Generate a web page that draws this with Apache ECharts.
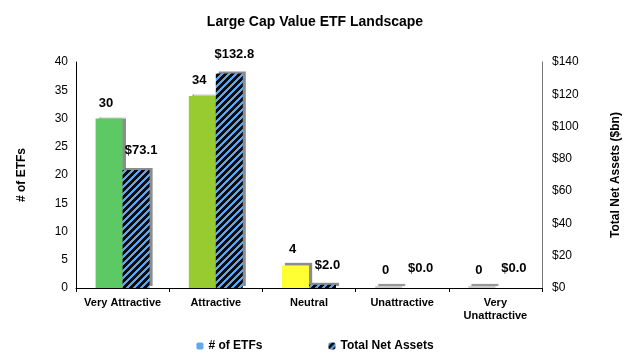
<!DOCTYPE html>
<html><head><meta charset="utf-8">
<script src="https://cdn.jsdelivr.net/npm/echarts@6/dist/echarts.min.js"></script>
<style>html,body{margin:0;padding:0;background:#fff}#c{width:630px;height:360px}</style>
</head><body><div id="c"></div>
<script>
const categories = ['Very Attractive', 'Attractive', 'Neutral', 'Unattractive', 'Very\nUnattractive'];
const etfCounts = [30, 34, 4, 0, 0];
const netAssets = [73.1, 132.8, 2.0, 0.0, 0.0];
const countColors = ['#5dc964', '#98cb2f', '#ffff33', '#cccccc', '#cccccc'];
const leftTicks = [0, 40, 5];
const rightTicks = [0, 140, 20];

function makePattern() {
  const s = 7;
  const c = document.createElement('canvas');
  c.width = s; c.height = s;
  const ctx = c.getContext('2d');
  for (let x = 0; x < s; x++) {
    for (let y = 0; y < s; y++) {
      ctx.fillStyle = ((x + y) % s) < 3 ? '#5fa6ee' : '#0c0c0c';
      ctx.fillRect(x, y, 1, 1);
    }
  }
  return c;
}
const pattern = { image: makePattern(), repeat: 'repeat' };
const font = 'Liberation Sans, Arial, sans-serif';
const shadow = { shadowColor: 'rgba(0,0,0,0.45)', shadowOffsetX: 3, shadowOffsetY: -2, shadowBlur: 1 };

const chart = echarts.init(document.getElementById('c'), null, { renderer: 'canvas' });
chart.setOption({
  animation: false,
  title: { text: 'Large Cap Value ETF Landscape', left: 'center', top: 10,
    textStyle: { fontFamily: font, fontSize: 14, fontWeight: 'bold', color: '#000' } },
  grid: { left: 76, right: 86, top: 62, bottom: 72 },
  legend: { bottom: 3, left: 'center', itemWidth: 7, itemHeight: 7, itemGap: 66,
    textStyle: { fontFamily: font, fontSize: 12, fontWeight: 'bold', color: '#000' },
    data: ['# of ETFs', 'Total Net Assets'] },
  xAxis: { type: 'category', data: categories,
    axisLine: { lineStyle: { color: '#000', width: 1 } },
    axisTick: { show: true, alignWithLabel: false, length: 4, lineStyle: { color: '#000' } },
    axisLabel: { fontFamily: font, fontSize: 11, fontWeight: 'bold', color: '#000', margin: 8, interval: 0, lineHeight: 13 } },
  yAxis: [
    { type: 'value', min: leftTicks[0], max: leftTicks[1], interval: leftTicks[2],
      name: '# of ETFs', nameLocation: 'middle', nameGap: 48, nameRotate: 90,
      nameTextStyle: { fontFamily: font, fontSize: 12, fontWeight: 'bold', color: '#000' },
      axisLine: { show: true, lineStyle: { color: '#000' } }, axisTick: { show: false },
      splitLine: { show: false },
      axisLabel: { fontFamily: font, fontSize: 12, color: '#000', margin: 8 } },
    { type: 'value', min: rightTicks[0], max: rightTicks[1], interval: rightTicks[2],
      name: 'Total Net Assets ($bn)', nameLocation: 'middle', nameGap: 68, nameRotate: 90,
      nameTextStyle: { fontFamily: font, fontSize: 12, fontWeight: 'bold', color: '#000' },
      axisLine: { show: true, lineStyle: { color: '#777' } }, axisTick: { show: false },
      splitLine: { show: false },
      axisLabel: { fontFamily: font, fontSize: 12, color: '#000', margin: 10,
        formatter: v => '$' + v } }
  ],
  series: [
    { name: '# of ETFs', type: 'bar', yAxisIndex: 0, barWidth: 27, barGap: '0%',
      barMinHeight: 2,
      itemStyle: Object.assign({ color: '#62a8ee' }, shadow),
      label: { show: true, position: 'top', distance: 9, offset: [-3, 0],
        fontFamily: font, fontSize: 13, fontWeight: 'bold', color: '#000' },
      data: etfCounts.map((v, i) => ({ value: v, itemStyle: { color: countColors[i] } })) },
    { name: 'Total Net Assets', type: 'bar', yAxisIndex: 1, barWidth: 27,
      itemStyle: Object.assign({ color: pattern }, shadow),
      label: { show: true, position: 'top', distance: 13, offset: [5, 0],
        fontFamily: font, fontSize: 13, fontWeight: 'bold', color: '#000',
        formatter: p => '$' + p.value.toFixed(1) },
      data: netAssets }
  ]
});
</script></body></html>
